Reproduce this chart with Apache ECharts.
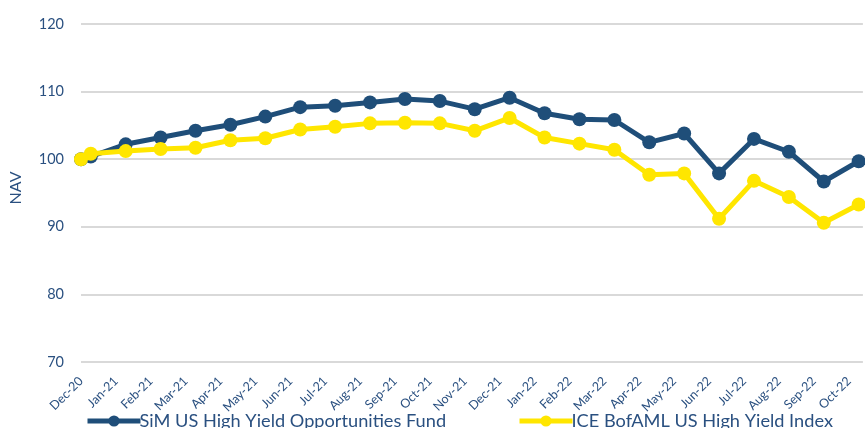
<!DOCTYPE html>
<html>
<head>
<meta charset="utf-8">
<script src="https://cdn.jsdelivr.net/npm/echarts@6/dist/echarts.min.js"></script>
<style>
html,body{margin:0;padding:0;background:#fff;overflow:hidden;}
#chart{width:865px;height:428px;}
</style>
</head>
<body>
<div id="chart"></div>
<script>
// Month tick labels (tick index 0 = Dec-20)
var monthLabels = ['Dec-20','Jan-21','Feb-21','Mar-21','Apr-21','May-21','Jun-21','Jul-21','Aug-21','Sep-21','Oct-21','Nov-21','Dec-21','Jan-22','Feb-22','Mar-22','Apr-22','May-22','Jun-22','Jul-22','Aug-22','Sep-22','Oct-22'];
// Observation positions in months since Dec-20 tick
var obsMonths = [0, 0.28, 1.28, 2.28, 3.28, 4.28, 5.28, 6.28, 7.28, 8.28, 9.28, 10.28, 11.28, 12.28, 13.28, 14.28, 15.28, 16.28, 17.28, 18.28, 19.28, 20.28, 21.28, 22.28];
var fundName = 'SiM US High Yield Opportunities Fund';
var indexName = 'ICE BofAML US High Yield Index';
var fundNAV = [100, 100.4, 102.2, 103.2, 104.2, 105.1, 106.3, 107.7, 107.9, 108.4, 108.9, 108.6, 107.4, 109.1, 106.8, 105.9, 105.8, 102.5, 103.8, 97.9, 103.0, 101.1, 96.7, 99.7];
var indexNAV = [100, 100.8, 101.2, 101.5, 101.7, 102.8, 103.1, 104.4, 104.8, 105.3, 105.4, 105.3, 104.2, 106.1, 103.2, 102.3, 101.4, 97.7, 97.9, 91.2, 96.8, 94.4, 90.6, 93.3];
var yTicks = [70, 80, 90, 100, 110, 120];

function pairs(xs, ys){ return xs.map(function(x,i){ return [x, ys[i]]; }); }

var blue = '#1F4E79';
var yellow = '#FFE600';
var textColor = '#2A5080';

function legendFor(name, left){
  return {
    left: left,
    top: 407,
    itemWidth: 53,
    itemHeight: 14,
    lineStyle: {width: 5},
    textStyle: {color: textColor, fontSize: 18.2, fontFamily: 'Lato', padding:[0,0,0,-6]},
    data: [name]
  };
}

var chart = echarts.init(document.getElementById('chart'), null, {renderer:'canvas'});
chart.setOption({
  animation: false,
  backgroundColor: '#ffffff',
  textStyle: {fontFamily: 'Lato'},
  grid: {left: 80, width: 792, top: 24, bottom: 66, containLabel: false},
  xAxis: {
    type: 'value',
    min: 0,
    max: 22.4,
    interval: 1,
    axisLine: {show: false},
    axisTick: {show: false},
    splitLine: {show: false},
    axisLabel: {
      rotate: 45,
      margin: 17,
      color: textColor,
      fontSize: 12.5,
      fontFamily: 'Lato',
      formatter: function(v){
        var r = Math.round(v);
        if (Math.abs(v - r) > 1e-6) return '';
        return monthLabels[r] || '';
      }
    }
  },
  yAxis: {
    type: 'value',
    min: yTicks[0],
    max: yTicks[yTicks.length-1],
    interval: 10,
    name: 'NAV',
    nameLocation: 'middle',
    nameGap: 57,
    nameTextStyle: {color: textColor, fontSize: 16, fontFamily: 'Lato', padding:[0,0,0,10]},
    axisLine: {show: false},
    axisTick: {show: false},
    axisLabel: {color: textColor, fontSize: 14.5, fontFamily: 'Lato', margin: 17},
    splitLine: {lineStyle: {color: '#D9D9D9', width: 2}}
  },
  legend: [legendFor(fundName, 80), legendFor(indexName, 512)],
  series: [
    {
      name: fundName,
      type: 'line',
      data: pairs(obsMonths, fundNAV),
      symbol: 'circle',
      symbolSize: 14,
      lineStyle: {color: blue, width: 5},
      itemStyle: {color: blue},
      z: 2
    },
    {
      name: indexName,
      type: 'line',
      data: pairs(obsMonths, indexNAV),
      symbol: 'circle',
      symbolSize: 14,
      lineStyle: {color: yellow, width: 5},
      itemStyle: {color: yellow},
      z: 3
    }
  ]
});
</script>
</body>
</html>
